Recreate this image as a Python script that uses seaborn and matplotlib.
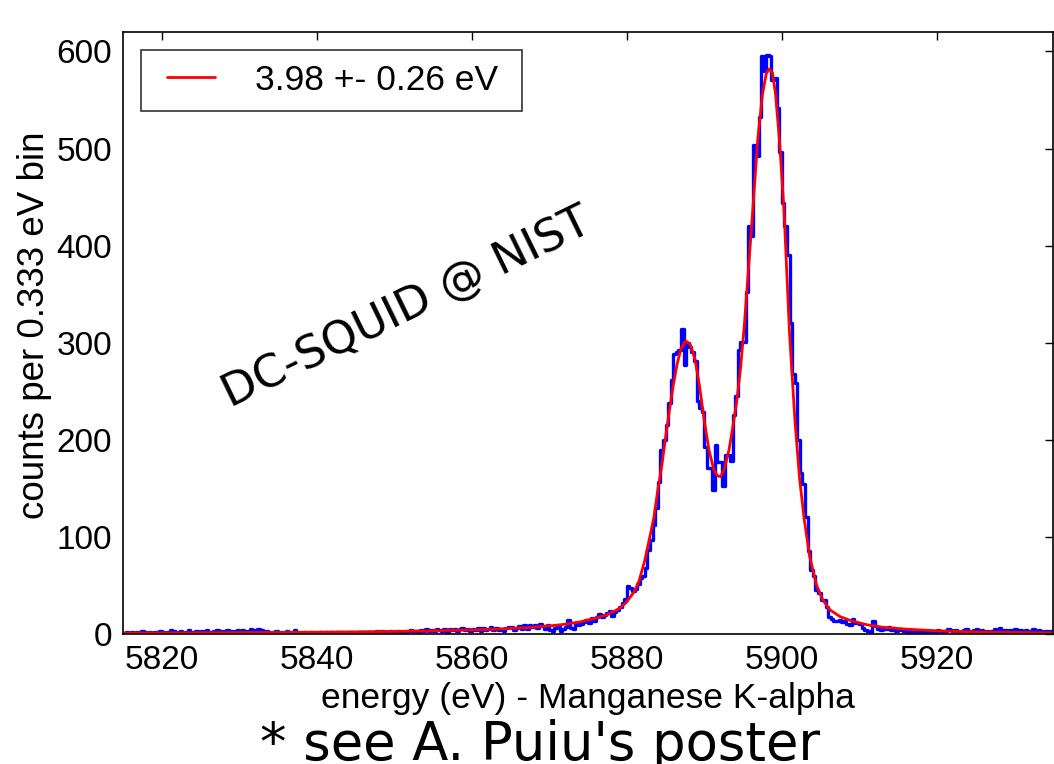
"""
Mn K-alpha spectrum from a DC-SQUID read-out: histogram of counts and fit curve.
"""

import numpy as np
import pandas as pd
import matplotlib
matplotlib.use("Agg")
import matplotlib.pyplot as plt
from matplotlib.legend_handler import HandlerLine2D
import seaborn as sns

# 1. Data
BIN_START = 5815.0          # eV, left edge of the first bin
BIN_WIDTH = 1.0 / 3.0       # eV, "0.333 eV bin"

# counts per bin, one row per eV (three bins each), 5815 ... 5934 eV
counts = [
    1, 2, 1,   2, 1, 2,   1, 3, 2,   1, 2, 1,   2, 1, 3,      # 5815-5819
    2, 1, 2,   4, 3, 2,   2, 3, 1,   2, 4, 2,   1, 3, 2,      # 5820-5824
    3, 2, 4,   2, 1, 3,   4, 2, 3,   1, 4, 3,   2, 3, 4,      # 5825-5829
    3, 4, 2,   3, 5, 4,   3, 5, 4,   2, 3, 2,   1, 2, 3,      # 5830-5834
    1, 2, 1,   3, 2, 1,   4, 2, 1,   1, 2, 1,   2, 1, 1,      # 5835-5839
    1, 2, 1,   2, 1, 2,   1, 1, 2,   2, 1, 1,   2, 2, 1,      # 5840-5844
    1, 2, 2,   2, 1, 2,   1, 2, 3,   2, 3, 2,   2, 3, 2,      # 5845-5849
    1, 3, 2,   2, 2, 3,   4, 3, 3,   2, 4, 3,   5, 3, 4,      # 5850-5854
    3, 5, 4,   3, 5, 2,   5, 4, 5,   3, 5, 6,   4, 5, 3,      # 5855-5859
    5, 4, 6,   3, 6, 4,   5, 7, 4,   6, 4, 5,   3, 6, 7,      # 5860-5864
    7, 4, 6,   8, 5, 9,   5, 9, 7,   9, 6, 10,  8, 5, 9,      # 5865-5869
    4, 3, 6,   8, 3, 5,   7, 14, 6,  5, 11, 9,  10, 12, 14,   # 5870-5874
    11, 16, 13, 18, 21, 17, 20, 22, 24, 19, 23, 25, 28, 32, 36,  # 5875-5879
    49, 47, 44, 46, 52, 58, 60, 68, 86, 97, 112, 130, 157, 190, 200,  # 5880-5884
    215, 238, 262, 288, 290, 292, 314, 277, 300, 296, 290, 281,
    240, 233, 229,                                               # 5885-5889
    193, 171, 171, 148, 195, 177, 177, 152, 184, 184, 178, 226,
    245, 293, 301,                                               # 5890-5894
    301, 352, 420, 410, 504, 492, 532, 595, 580, 596, 595, 571,
    573, 542, 496,                                               # 5895-5899
    444, 420, 390, 320, 268, 258, 200, 166, 154, 121, 85, 66,
    60, 45, 42,                                                  # 5900-5904
    35, 35, 28, 18, 15, 13, 13, 14, 12, 13, 10, 9, 15, 11, 11,   # 5905-5909
    10, 6, 4,  3, 2, 13,  8, 5, 4,   6, 5, 7,   4, 6, 3,      # 5910-5914
    5, 4, 3,   3, 2, 4,   2, 3, 2,   3, 2, 1,   2, 3, 2,      # 5915-5919
    4, 3, 2,   3, 5, 4,   3, 4, 3,   2, 4, 5,   3, 2, 4,      # 5920-5924
    5, 3, 4,   2, 3, 2,   3, 5, 4,   6, 3, 4,   2, 4, 3,      # 5925-5929
    5, 3, 4,   2, 4, 3,   3, 5, 2,   4, 3, 2,   3, 1, 3,      # 5930-5934
]

# fit curve, read point by point
fit_energy = [
    5815, 5825, 5835, 5845, 5850, 5855, 5860, 5864, 5867, 5870,
    5872, 5874, 5876, 5877.5, 5879, 5880, 5881, 5881.6, 5882.3, 5882.9,
    5883.5, 5884, 5884.5, 5885, 5885.5, 5886, 5886.5, 5887, 5887.6, 5888.2,
    5888.8, 5889.4, 5890, 5890.6, 5891.2, 5891.7, 5892.1, 5892.6, 5893.2, 5893.7,
    5894.2, 5894.7, 5895.2, 5895.7, 5896.3, 5896.9, 5897.5, 5898, 5898.4, 5898.8,
    5899.2, 5899.7, 5900.3, 5901, 5901.7, 5902.3, 5902.9, 5903.6, 5904.5, 5905.3,
    5906.2, 5907.5, 5909, 5911, 5913, 5916, 5920, 5925, 5930, 5935,
]
fit_counts = [
    1.0, 1.3, 1.6, 2.2, 2.7, 3.3, 4.2, 5.3, 6.5, 8.3,
    10.0, 12.5, 16.5, 20, 26, 33, 44, 55, 75, 97,
    120, 148, 172, 202, 230, 256, 278, 294, 302, 298,
    283, 255, 220, 190, 170, 163, 162, 170, 190, 214,
    240, 275, 321, 375, 441, 509, 555, 577, 582, 578,
    556, 509, 435, 310, 220, 160, 118, 80, 50, 35,
    25, 18, 13.5, 9.5, 7.0, 5.0, 3.3, 2.2, 1.6, 1.2,
]
fit_label = "3.98 +- 0.26 eV "

n_bins = len(counts)
hist_df = pd.DataFrame({
    "energy": BIN_START + BIN_WIDTH * (np.arange(n_bins) + 0.5),
    "counts": counts,
})
fit_df = pd.DataFrame({"energy": fit_energy, "counts": fit_counts})

# 2. Style
sns.set_style("white")
plt.rcParams["font.family"] = ["Liberation Sans", "DejaVu Sans"]
plt.rcParams.update({
    "text.color": "black",
    "axes.labelcolor": "black",
    "xtick.color": "black",
    "ytick.color": "black",
})

fig = plt.figure(figsize=(10.54, 7.64), dpi=100)
ax = fig.add_axes([123 / 1054, 130 / 764, 930 / 1054, 602 / 764])

# 3. Histogram and fit
sns.histplot(data=hist_df, x="energy", weights="counts", binwidth=BIN_WIDTH,
             binrange=(BIN_START, BIN_START + BIN_WIDTH * n_bins),
             element="step", fill=False, color="#0000ff", linewidth=2.4, ax=ax)
sns.lineplot(data=fit_df, x="energy", y="counts", color="#ff0000",
             linewidth=2.0, label=fit_label, ax=ax)

ax.set_xlim(5815, 5935)
ax.set_ylim(0, 620)
ax.set_xticks(range(5820, 5921, 20))
ax.set_yticks(range(0, 601, 100))
ax.tick_params(direction="in", length=6, width=1, top=True, right=True,
               labelsize=24, pad=8)
for s in ax.spines.values():
    s.set_color("black")
    s.set_linewidth(1.2)

ax.set_xlabel("energy (eV) - Manganese K-alpha", fontsize=25.5, labelpad=4)
ax.set_ylabel("counts per 0.333 eV bin", fontsize=26.5, labelpad=3)
ax.yaxis.label.set_y(0.513)

handles, labels = ax.get_legend_handles_labels()
leg = ax.legend(handles, labels, loc="upper left", fontsize=25.5,
                frameon=True, fancybox=False, handlelength=1.7,
                handletextpad=1.13, borderpad=0.4, borderaxespad=0.5,
                handler_map={handles[0]: HandlerLine2D(xpad=0.34)})
leg.get_frame().set_edgecolor("black")
leg.get_frame().set_linewidth(1.2)

# 4. Annotations
ax.text(5851.65, 336, "DC-SQUID @ NIST", family="DejaVu Sans", fontsize=32.5,
        rotation=26, ha="center", va="center", rotation_mode="anchor")
fig.text(540 / 1054, 4 / 764, "* see A. Puiu's poster", family="DejaVu Sans",
         fontsize=38, ha="center", va="baseline")

fig.savefig("out.png", dpi=100)
